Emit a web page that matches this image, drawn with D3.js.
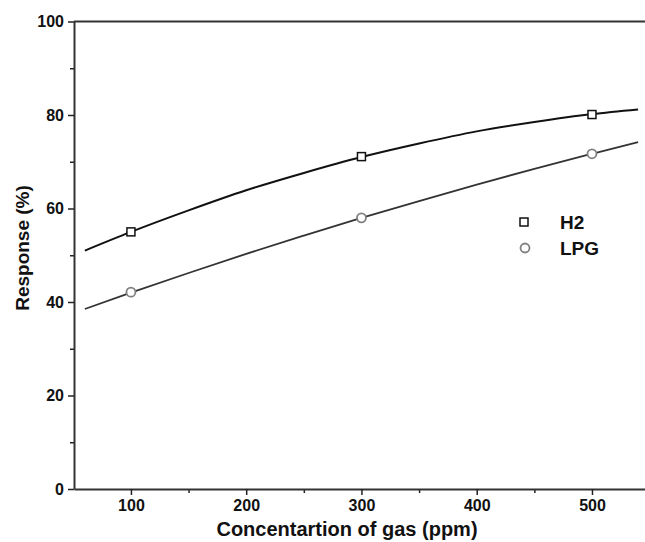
<!DOCTYPE html>
<html>
<head>
<meta charset="utf-8">
<script src="https://cdn.jsdelivr.net/npm/d3@7"></script>
<style>
  body { margin: 0; background: #fff; }
  svg { display: block; }
</style>
</head>
<body>
<svg id="chart" width="645" height="542"></svg>
<script>
// measured points
const gasConc = [100, 300, 500]
const h2Resp = [55.0, 71.1, 80.1]
const lpgResp = [42.1, 58.0, 71.7]

// fitted curves
const fitX = [60, 100, 150, 200, 250, 300, 350, 400, 450, 500, 540]
const h2Fit = [51.0, 55.0, 59.6, 63.9, 67.6, 71.0, 73.9, 76.5, 78.5, 80.2, 81.2]
const lpgFit = [38.5, 42.0, 46.2, 50.3, 54.2, 58.0, 61.6, 65.1, 68.5, 71.7, 74.2]

const xMajor = [100, 200, 300, 400, 500]
const xMinor = [150, 250, 350, 450]
const yMajor = [0, 20, 40, 60, 80, 100]
const yMinor = [10, 30, 50, 70, 90]

const svg = d3.select('#chart')
const font = 'Liberation Sans, Arial, sans-serif'

const x = d3.scaleLinear().domain([50.6, 546]).range([74, 645])
const y = d3.scaleLinear().domain([0, 100]).range([489, 21.5])

// top frame line
svg.append('line')
  .attr('x1', x.range()[0]).attr('x2', x.range()[1])
  .attr('y1', y(100)).attr('y2', y(100))
  .attr('stroke', '#333').attr('stroke-width', 2)

// minor ticks
svg.append('g')
  .attr('transform', 'translate(0,' + y(0) + ')')
  .call(d3.axisBottom(x).tickValues(xMinor).tickSize(4).tickFormat('').tickSizeOuter(0))
  .call(g => g.select('.domain').remove())
  .selectAll('line').attr('stroke', '#222').attr('stroke-width', 1.5)
svg.append('g')
  .attr('transform', 'translate(' + x.range()[0] + ',0)')
  .call(d3.axisLeft(y).tickValues(yMinor).tickSize(4).tickFormat('').tickSizeOuter(0))
  .call(g => g.select('.domain').remove())
  .selectAll('line').attr('stroke', '#222').attr('stroke-width', 1.5)

// major axes
const xAxis = svg.append('g')
  .attr('transform', 'translate(0,' + y(0) + ')')
  .call(d3.axisBottom(x).tickValues(xMajor).tickSize(6).tickSizeOuter(0).tickPadding(5))
const yAxis = svg.append('g')
  .attr('transform', 'translate(' + x.range()[0] + ',0)')
  .call(d3.axisLeft(y).tickValues(yMajor).tickSize(6).tickSizeOuter(0).tickPadding(4))

;[xAxis, yAxis].forEach(g => {
  g.select('.domain').attr('stroke', '#333').attr('stroke-width', 2)
  g.selectAll('.tick line').attr('stroke', '#222').attr('stroke-width', 1.5)
  g.selectAll('.tick text')
    .style('font', 'bold 16px ' + font)
    .attr('fill', '#111')
})

// fit lines
const line = d3.line().x(d => x(d[0])).y(d => y(d[1])).curve(d3.curveMonotoneX)
svg.append('path')
  .datum(fitX.map((v, i) => [v, h2Fit[i]]))
  .attr('d', line).attr('fill', 'none')
  .attr('stroke', '#111').attr('stroke-width', 2)
svg.append('path')
  .datum(fitX.map((v, i) => [v, lpgFit[i]]))
  .attr('d', line).attr('fill', 'none')
  .attr('stroke', '#333').attr('stroke-width', 1.8)

// markers
svg.append('g').selectAll('rect')
  .data(gasConc.map((v, i) => [v, h2Resp[i]]))
  .enter().append('rect')
  .attr('x', d => x(d[0]) - 4).attr('y', d => y(d[1]) - 4)
  .attr('width', 8).attr('height', 8)
  .attr('fill', '#fff').attr('stroke', '#111').attr('stroke-width', 1.5)
svg.append('g').selectAll('circle')
  .data(gasConc.map((v, i) => [v, lpgResp[i]]))
  .enter().append('circle')
  .attr('cx', d => x(d[0])).attr('cy', d => y(d[1]))
  .attr('r', 4.5)
  .attr('fill', '#fff').attr('stroke', '#808080').attr('stroke-width', 1.8)

// legend
svg.append('rect').attr('x', 520).attr('y', 218).attr('width', 8).attr('height', 8)
  .attr('fill', '#fff').attr('stroke', '#111').attr('stroke-width', 1.5)
svg.append('circle').attr('cx', 525).attr('cy', 248).attr('r', 4.5)
  .attr('fill', '#fff').attr('stroke', '#808080').attr('stroke-width', 1.8)
svg.append('text').attr('x', 560).attr('y', 229).text('H2')
  .style('font', 'bold 19px ' + font).attr('fill', '#111')
svg.append('text').attr('x', 560).attr('y', 255).text('LPG')
  .style('font', 'bold 19px ' + font).attr('fill', '#111')

// axis titles
svg.append('text')
  .attr('x', 347).attr('y', 536)
  .style('text-anchor', 'middle')
  .style('font', 'bold 20px ' + font)
  .attr('fill', '#111')
  .text('Concentartion of gas (ppm)')
svg.append('text')
  .attr('transform', 'translate(29,248) rotate(-90)')
  .style('text-anchor', 'middle')
  .style('font', 'bold 19px ' + font)
  .attr('fill', '#111')
  .text('Response (%)')
</script>
</body>
</html>
